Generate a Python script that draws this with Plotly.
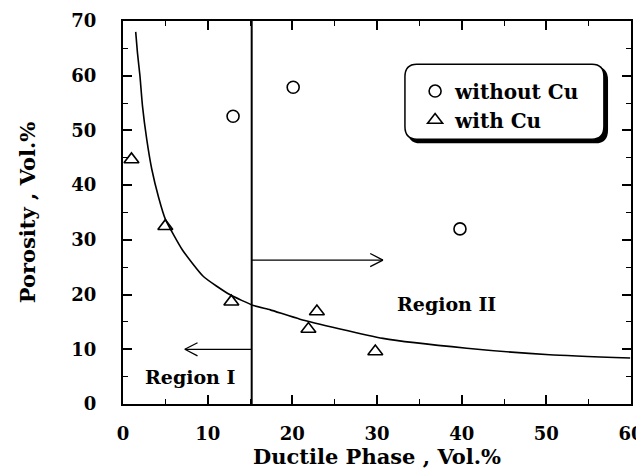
import plotly.graph_objects as go

# ---- data ----
x_without = [13.0, 20.1, 39.8]
y_without = [52.6, 57.9, 32.0]

x_with = [1.0, 5.0, 12.8, 21.9, 22.9, 29.8]
y_with = [44.7, 32.5, 18.7, 13.7, 16.9, 9.6]

curve_x = [1.5, 1.7, 2.0, 2.3, 2.8, 3.4, 4.2, 5.0, 7.0, 9.5, 12.6, 15.4, 17.4, 20.9, 30.7, 40.6, 50.4, 59.9]
curve_y = [68.0, 64.3, 60.0, 54.5, 48.4, 42.9, 37.8, 33.8, 28.2, 23.3, 20.0, 18.0, 17.2, 15.5, 12.0, 10.2, 9.0, 8.4]

boundary_x = 15.2
left_arrow = {"y": 10.0, "x_start": 15.2, "x_tip": 7.3}
right_arrow = {"y": 26.3, "x_start": 15.2, "x_tip": 30.7}

region_labels = ["Region I", "Region II"]
region_x = [7.9, 38.2]
region_y = [5.0, 18.3]

x_ticks = [0, 10, 20, 30, 40, 50, 60]
y_ticks = [0, 10, 20, 30, 40, 50, 60, 70]

FONT = "DejaVu Serif"

fig = go.Figure()

fig.add_trace(go.Scatter(
    x=curve_x, y=curve_y, mode="lines", line=dict(color="black", width=1.6, shape="spline", smoothing=0.5),
    showlegend=False, hoverinfo="skip"))

fig.add_trace(go.Scatter(
    x=x_without, y=y_without, mode="markers", name="without Cu",
    marker=dict(symbol="circle-open", size=12, color="black", line=dict(width=1.6))))

fig.add_trace(go.Scatter(
    x=x_with, y=y_with, mode="markers", name="with Cu",
    marker=dict(symbol="triangle-up-open", size=13, color="black", line=dict(width=1.6))))

shapes = []
# boundary line between regions
shapes.append(dict(type="line", xref="x", yref="y", x0=boundary_x, x1=boundary_x, y0=0, y1=70,
                   line=dict(color="black", width=2)))

# arrows (shaft + open chevron head)
head_dx, head_dy = 1.5, 1.2
for arr in (left_arrow, right_arrow):
    sgn = 1 if arr["x_tip"] > arr["x_start"] else -1
    shapes.append(dict(type="line", xref="x", yref="y", x0=arr["x_start"], x1=arr["x_tip"],
                       y0=arr["y"], y1=arr["y"], line=dict(color="black", width=1.3)))
    for s in (1, -1):
        shapes.append(dict(type="line", xref="x", yref="y", x0=arr["x_tip"] - sgn * head_dx,
                           x1=arr["x_tip"], y0=arr["y"] + s * head_dy, y1=arr["y"],
                           line=dict(color="black", width=1.3)))

# rounded legend box with drop shadow
bx0, bx1, by0, by1 = 33.3, 56.8, 48.4, 62.1
rx, ry = 1.4, 2.3


def rounded(x0, x1, y0, y1):
    return (f"M {x0+rx},{y1} L {x1-rx},{y1} Q {x1},{y1} {x1},{y1-ry} L {x1},{y0+ry} "
            f"Q {x1},{y0} {x1-rx},{y0} L {x0+rx},{y0} Q {x0},{y0} {x0},{y0+ry} "
            f"L {x0},{y1-ry} Q {x0},{y1} {x0+rx},{y1} Z")


sdx, sdy = 0.4, 0.6
shapes.append(dict(type="path", xref="x", yref="y", path=rounded(bx0 + sdx, bx1 + sdx, by0 - sdy, by1 - sdy),
                   fillcolor="black", line=dict(color="black", width=1.5), layer="below"))
shapes.append(dict(type="path", xref="x", yref="y", path=rounded(bx0, bx1, by0, by1),
                   fillcolor="white", line=dict(color="black", width=1.5), layer="below"))

annotations = []
for t, xx, yy in zip(region_labels, region_x, region_y):
    annotations.append(dict(x=xx, y=yy, xref="x", yref="y", text=t, showarrow=False,
                            font=dict(family=FONT, size=19, color="black", weight="bold")))

axis_common = dict(
    showgrid=False, zeroline=False, showline=True, linecolor="black", linewidth=2,
    mirror="ticks", ticks="inside", ticklen=9, tickwidth=1.5, tickcolor="black",
    automargin=False, ticklabeloverflow="allow",
    tickfont=dict(family=FONT, size=18, color="black", weight="bold"),
    minor=dict(ticks="inside", ticklen=5, tickwidth=1.2, tickcolor="black", dtick=5, showgrid=False),
)

# the page body adds an 8px margin; the plot area is placed to match the 644x470 window
fig.update_layout(
    width=644, height=462,
    margin=dict(l=115, r=21, t=13, b=66),
    paper_bgcolor="white", plot_bgcolor="white",
    shapes=shapes, annotations=annotations,
    xaxis=dict(range=[0, 60], tickvals=x_ticks, ticklabelstandoff=12,
               title=dict(text="Ductile Phase , Vol.%", standoff=2,
                          font=dict(family=FONT, size=21, color="black", weight="bold")),
               **axis_common),
    yaxis=dict(range=[0, 70], tickvals=y_ticks, ticklabelstandoff=21,
               title=dict(text="Porosity , Vol.%", standoff=30,
                          font=dict(family=FONT, size=21, color="black", weight="bold")),
               **axis_common),
    legend=dict(x=0.575, y=0.868, xanchor="left", yanchor="top", bgcolor="rgba(0,0,0,0)",
                borderwidth=0, font=dict(family=FONT, size=20, color="black", weight="bold"),
                itemsizing="trace"),
)

fig.write_html("out.html")
